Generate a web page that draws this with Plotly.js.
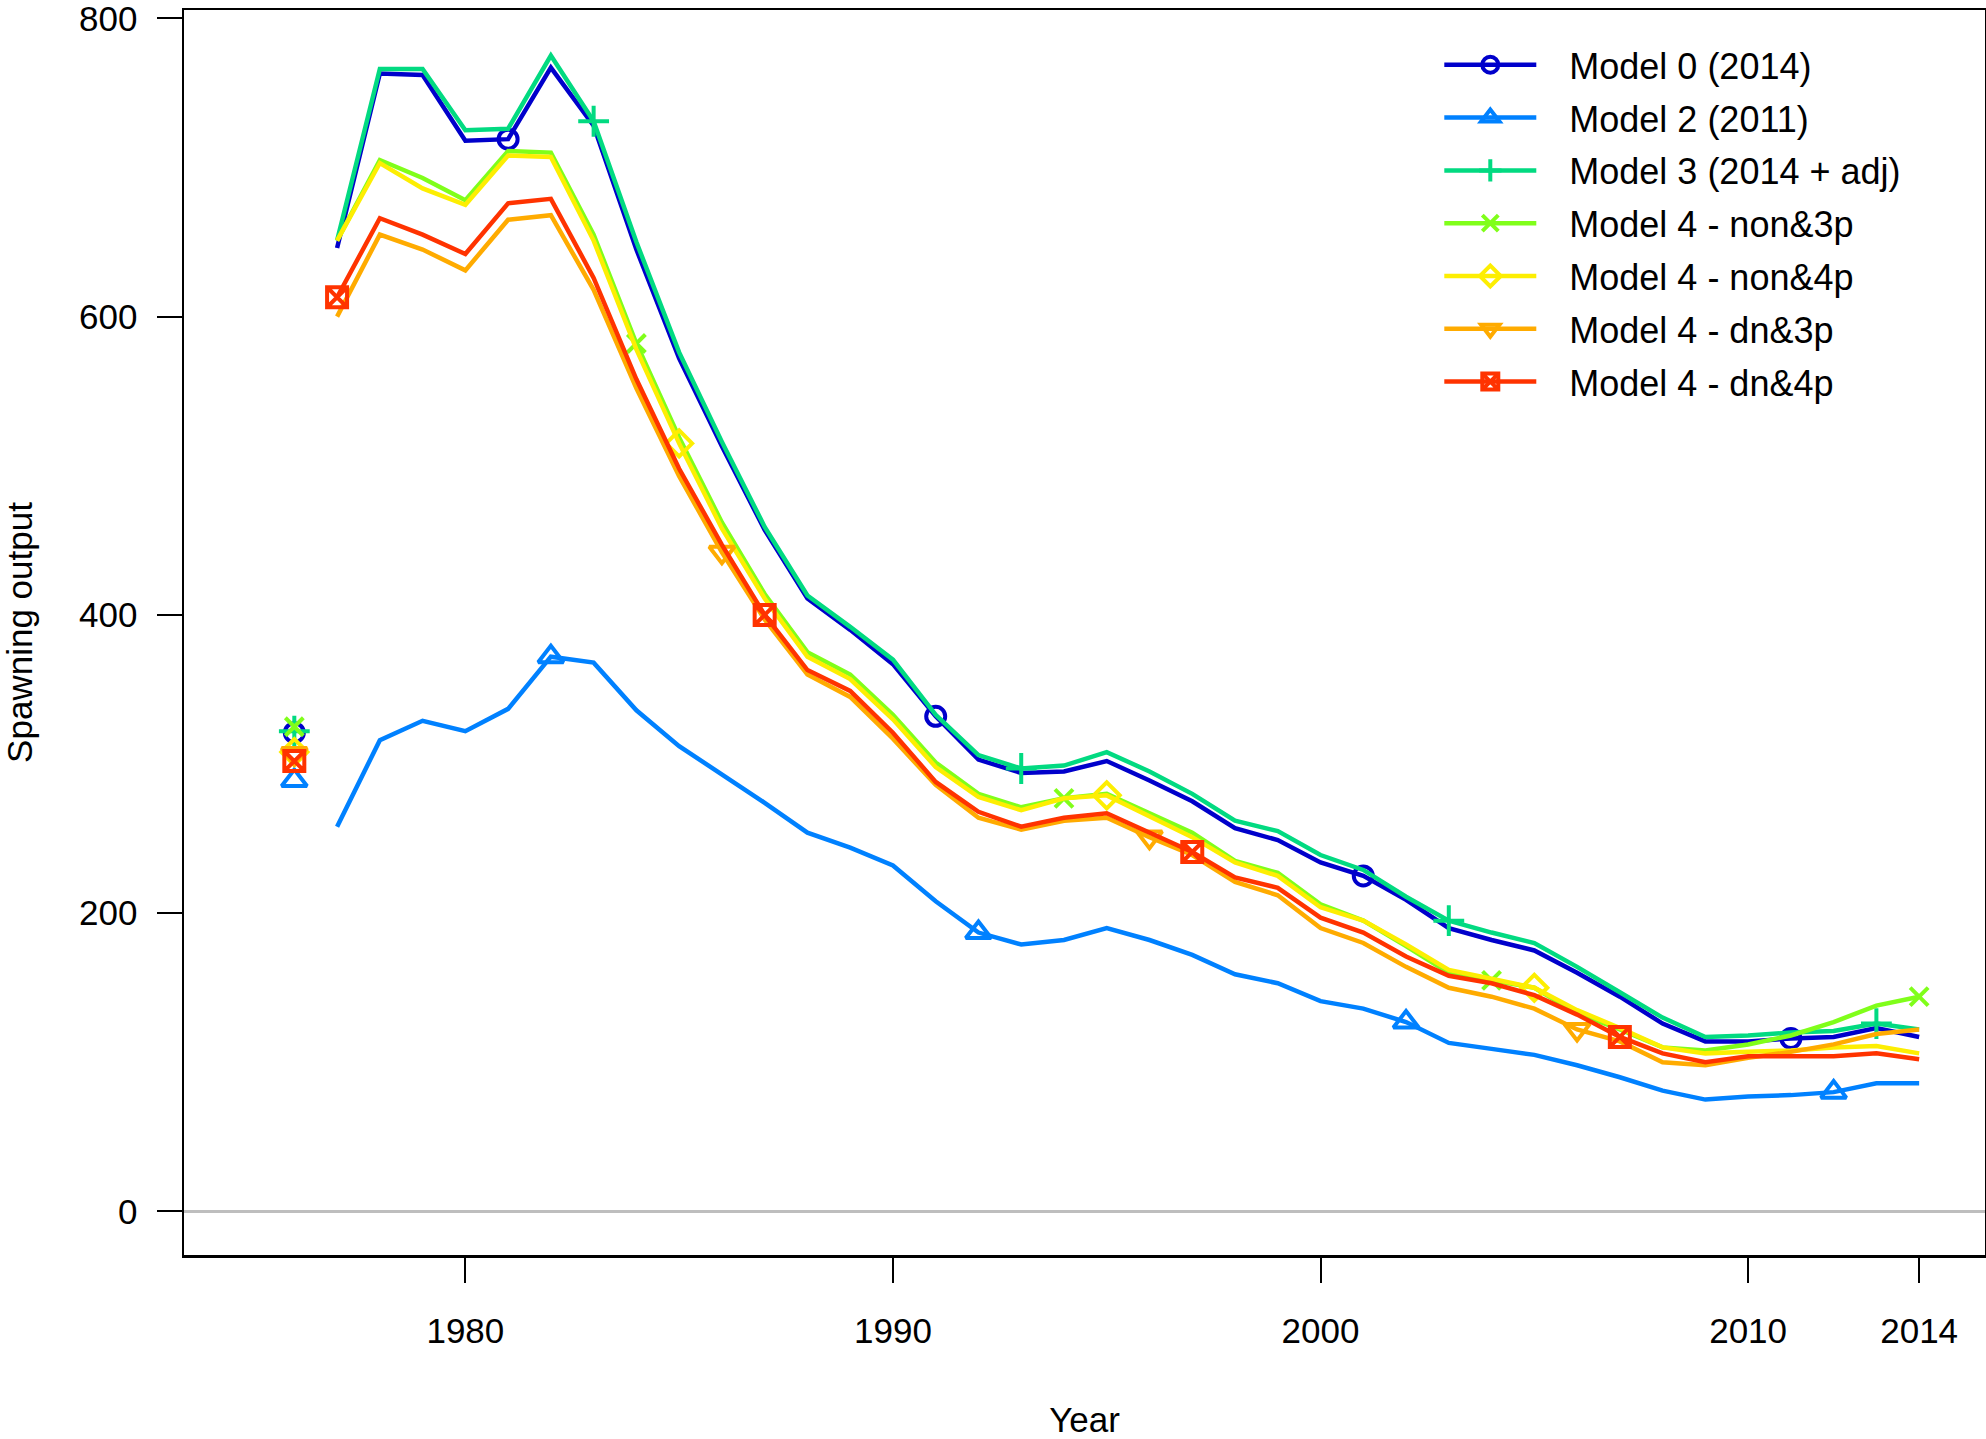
<!DOCTYPE html>
<html><head><meta charset="utf-8">
<script src="https://cdn.plot.ly/plotly-3.0.1.min.js"></script>
<style>html,body{margin:0;padding:0;background:#fff;} #chart{width:1986px;height:1439px;}</style>
</head><body><div id="chart"></div>
<script>
// ---- data ----
const years = [1977,1978,1979,1980,1981,1982,1983,1984,1985,1986,1987,1988,1989,1990,1991,1992,1993,1994,1995,1996,1997,1998,1999,2000,2001,2002,2003,2004,2005,2006,2007,2008,2009,2010,2011,2012,2013,2014];
const virginYear = 1976;
const xTickVals = [1980,1990,2000,2010,2014];
const yTickVals = [0,200,400,600,800];

const seriesNames = ["Model 0 (2014)","Model 2 (2011)","Model 3 (2014 + adj)","Model 4 - non&3p","Model 4 - non&4p","Model 4 - dn&3p","Model 4 - dn&4p"];

const model0 = [646,763,762,718,719,767,728,645,572,513,457,411,390,367,332,303,294,295,302,289,275,257,249,234,225,209,190,182,175,160,144,126,114,114,116,117,123,117];
const model2 = [258,316,329,322,337,372,368,336,312,293,274,254,244,232,208,187,179,182,190,182,172,159,153,141,136,127,113,109,105,98,90,81,75,77,78,80,86,86];
const model3 = [651,766,766,725,726,775,731,650,576,516,459,413,392,370,333,306,297,299,308,295,280,262,255,239,229,211,195,187,180,164,147,130,117,118,120,121,126,122];
const model4non3p = [651,705,693,678,711,710,655,582,519,462,414,375,360,333,301,280,271,277,280,267,254,235,227,206,195,178,160,155,150,133,122,110,108,112,118,127,138,144];
const model4non4p = [651,703,686,675,708,707,651,578,515,458,411,372,357,330,298,278,269,277,279,265,251,234,225,204,195,179,162,156,150,135,123,110,106,107,108,110,111,106];
const model4dn3p = [600,655,645,631,665,668,618,552,493,442,397,360,345,317,286,264,256,262,264,251,239,221,212,190,180,164,150,144,136,122,114,100,98,103,107,112,119,122];
const model4dn4p = [613,666,655,642,676,679,626,558,498,447,400,363,349,321,288,268,258,264,267,254,241,224,217,197,187,171,158,153,145,132,117,106,100,104,104,104,106,102];

const virginValues = [321,289,322,325,308,307,302];

const markerYears0 = [1981,1991,2001,2011];
const markerYears2 = [1982,1992,2002,2012];
const markerYears3 = [1983,1993,2003,2013];
const markerYears4a = [1984,1994,2004,2014];
const markerYears4b = [1985,1995,2005];
const markerYears4c = [1986,1996,2006];
const markerYears4d = [1977,1987,1997,2007];

// ---- style ----
const series = [model0, model2, model3, model4non3p, model4non4p, model4dn3p, model4dn4p];
const markerYears = [markerYears0, markerYears2, markerYears3, markerYears4a, markerYears4b, markerYears4c, markerYears4d];
const colors = ["#0000CB","#0081FF","#02DA81","#80FE1A","#FDEE02","#FFAB00","#FF3300"];
const symbols = ["circle-open","triangle-up-open","cross-thin-open","x-thin-open","diamond-open","triangle-down-open","square-x-open"];
const sizes = [19,22,22,18,20,22,20];
const FONT = "Liberation Sans, Arial, Helvetica, sans-serif";
const LW = 4.5, MW = 4;
const LEGEND_PAD = "\u2002 ";

const traces = [];
series.forEach((vals, i) => {
  traces.push({x: years, y: vals, type: 'scatter', mode: 'lines',
    line: {color: colors[i], width: LW}, showlegend: false, hoverinfo: 'skip'});
  const mx = markerYears[i].slice();
  const my = mx.map(yr => vals[years.indexOf(yr)]);
  mx.push(virginYear); my.push(virginValues[i]);
  traces.push({x: mx, y: my, type: 'scatter', mode: 'markers', showlegend: false,
    marker: {symbol: symbols[i], size: sizes[i], color: colors[i], line: {color: colors[i], width: MW}}});
});
series.forEach((vals, i) => {
  traces.push({x: [null], y: [null], type: 'scatter', mode: 'lines+markers', name: LEGEND_PAD + seriesNames[i],
    legendgroup: 'g' + i,
    line: {color: colors[i], width: LW},
    marker: {symbol: symbols[i], size: sizes[i], color: colors[i], line: {color: colors[i], width: MW}}});
});

const layout = {
  width: 1986, height: 1439,
  margin: {l: 184, r: 1, t: 10, b: 184},
  paper_bgcolor: '#fff', plot_bgcolor: '#fff',
  font: {family: FONT, size: 35, color: '#000'},
  showlegend: true,
  legend: {x: 0.697, y: 0.980, xanchor: 'left', yanchor: 'top', bgcolor: 'rgba(0,0,0,0)',
    font: {family: FONT, size: 36, color: '#000'}, itemwidth: 92, tracegroupgap: 3,
    traceorder: 'grouped'},
  xaxis: {range: [1973.42, 2015.54], tickvals: xTickVals, ticktext: xTickVals.map(String),
    ticks: 'outside', ticklen: 25, tickwidth: 2, tickcolor: '#000',
    showline: true, linewidth: 2.5, linecolor: '#000', mirror: true,
    showgrid: false, zeroline: false, ticklabelstandoff: 18, ticklabeloverflow: 'allow',
    tickfont: {family: FONT, size: 35, color: '#000'},
    title: {text: 'Year', font: {family: FONT, size: 35, color: '#000'}, standoff: 65}},
  yaxis: {range: [-29.2, 805.6], tickvals: yTickVals, ticktext: yTickVals.map(String),
    ticks: 'outside', ticklen: 25, tickwidth: 2, tickcolor: '#000',
    showline: true, linewidth: 2.5, linecolor: '#000', mirror: true,
    showgrid: false, zeroline: false, ticklabelstandoff: 12, ticklabeloverflow: 'allow',
    tickfont: {family: FONT, size: 35, color: '#000'},
    title: {text: 'Spawning output', font: {family: FONT, size: 35, color: '#000'}, standoff: 40}},
  shapes: [{type: 'line', xref: 'paper', x0: 0, x1: 1, yref: 'y', y0: 0, y1: 0,
    line: {color: '#BEBEBE', width: 3}, layer: 'below'}]
};

Plotly.newPlot('chart', traces, layout, {displayModeBar: false, staticPlot: true});
</script>
</body></html>
